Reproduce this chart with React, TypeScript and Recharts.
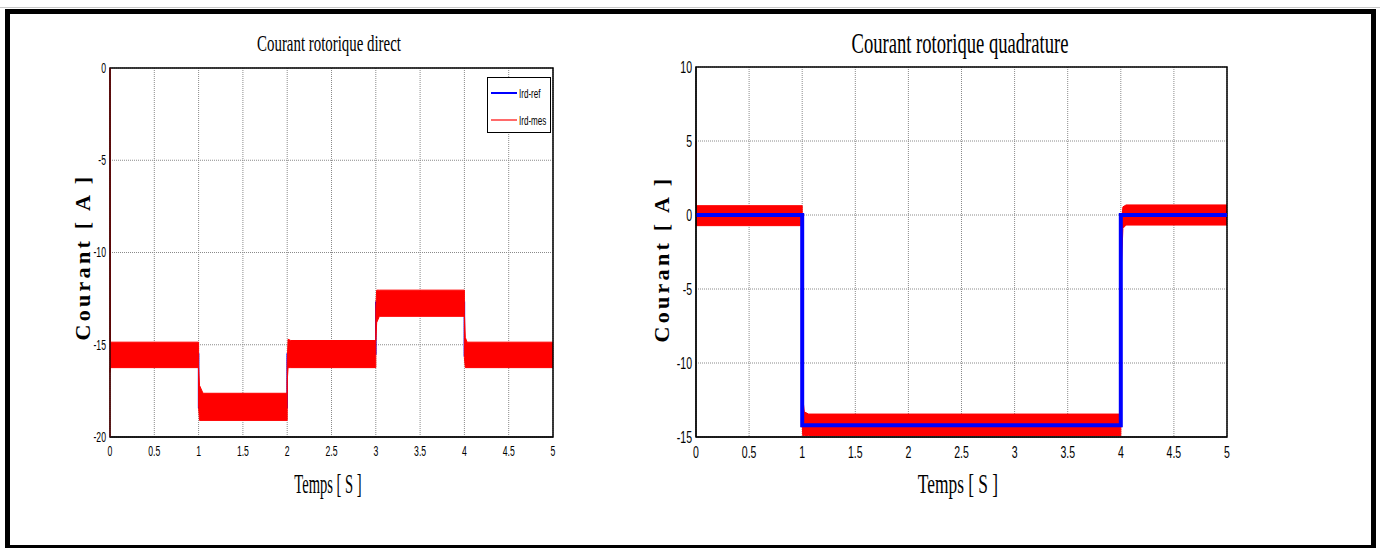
import { ComposedChart, Line, Area, XAxis, YAxis, CartesianGrid, ReferenceArea } from "recharts";

// time axis ticks shared by both plots
const timeTicks = [0, 0.5, 1, 1.5, 2, 2.5, 3, 3.5, 4, 4.5, 5];
const directTicks = [-20, -15, -10, -5, 0];
const quadTicks = [-15, -10, -5, 0, 5, 10];

// Ird : reference (blue) and measured band (red, min / max of the ripple)
const irdRefT = [0, 1, 1, 2, 2, 3, 3, 4, 4, 5];
const irdRef = [-15.5, -15.5, -18.4, -18.4, -15.5, -15.5, -12.7, -12.7, -15.6, -15.6];
const irdMesT = [0, 0.003, 1, 1, 1.01, 1.05, 2, 2, 2.01, 2.04, 3, 3, 3.01, 3.04, 4, 4, 4.01, 4.03, 5];
const irdMesHi = [0, -14.86, -14.86, -16.3, -17.2, -17.63, -17.63, -16.0, -14.7, -14.77, -14.77, -13.0, -12.04, -12.04, -12.04, -13.3, -14.6, -14.86, -14.86];
const irdMesLo = [-16.5, -16.24, -16.24, -18.4, -19.1, -19.1, -19.1, -17.0, -16.24, -16.24, -16.24, -14.8, -13.8, -13.46, -13.46, -15.7, -16.24, -16.24, -16.24];

// Irq : reference (blue) and measured band (red)
const irqRefT = [0, 1, 1, 4, 4, 5];
const irqRef = [0, 0, -14.2, -14.2, 0, 0];
const irqMesT = [0, 0.003, 1, 1, 1.005, 1.02, 1.06, 4, 4, 4.005, 4.02, 4.05, 5];
const irqMesHi = [5, 0.63, 0.63, -10.4, -12.3, -13.3, -13.45, -13.45, -4.0, -0.5, 0.55, 0.68, 0.68];
const irqMesLo = [-0.7, -0.72, -0.72, -14.0, -14.9, -14.9, -14.9, -14.9, -14.9, -3.5, -0.9, -0.68, -0.68];

const toLine = (t: number[], v: number[]) => t.map((x, i) => ({ t: x, v: v[i] }));
const toBand = (t: number[], lo: number[], hi: number[]) => t.map((x, i) => ({ t: x, band: [lo[i], hi[i]] }));

const SQUEEZE = 0.62;

const makeXTick = (size: number) => ({ x, y, payload }: any) => (
  <g transform={`translate(${x},${y})`}>
    <text transform={`scale(${SQUEEZE},1)`} textAnchor="middle" dy="0.71em" fontSize={size} fontFamily="Liberation Sans, Arial" fill="#000">
      {payload.value}
    </text>
  </g>
);

const makeYTick = (size: number) => ({ x, y, payload }: any) => (
  <g transform={`translate(${x},${y})`}>
    <text transform={`scale(${SQUEEZE},1)`} textAnchor="end" dy="0.355em" fontSize={size} fontFamily="Liberation Sans, Arial" fill="#000">
      {payload.value}
    </text>
  </g>
);

const XTickL = makeXTick(14);
const YTickL = makeYTick(14);
const XTickR = makeXTick(17);
const YTickR = makeYTick(17);

const serif = "Liberation Serif, Times New Roman, serif";

const Squeezed = ({ cx, cy, size, text, sx = SQUEEZE }: { cx: number; cy: number; size: number; text: string; sx?: number }) => (
  <div
    style={{
      position: "absolute",
      left: cx,
      top: cy,
      transform: `translate(-50%, -50%) scale(${sx}, 1)`,
      fontFamily: serif,
      fontSize: size,
      whiteSpace: "nowrap",
      lineHeight: 1,
    }}
  >
    {text}
  </div>
);

const YLabel = ({ cx, cy }: { cx: number; cy: number }) => (
  <div
    style={{
      position: "absolute",
      left: cx,
      top: cy,
      transform: "translate(-50%, -50%) rotate(-90deg)",
      fontFamily: serif,
      fontWeight: "bold",
      fontSize: 22,
      letterSpacing: 3.3,
      whiteSpace: "nowrap",
      lineHeight: 1,
    }}
  >
    Courant [ A ]
  </div>
);

const gridProps = { stroke: "#8a8a8a", strokeDasharray: "1 1" };

export default function App() {
  return (
    <div style={{ position: "absolute", left: 0, top: 0, width: 1380, height: 548, overflow: "hidden", background: "#fff" }}>
      <div style={{ position: "absolute", left: 0, top: 7, width: 1380, height: 1, background: "#c8c8c8" }} />
      <div style={{ position: "absolute", left: 5, top: 9, width: 1371, height: 541, border: "5px solid #000", boxSizing: "border-box" }} />

      {/* left : direct current */}
      <div style={{ position: "absolute", left: 0, top: 0 }}>
        <ComposedChart width={690} height={548} margin={{ top: 68, right: 137, bottom: 81, left: 70 }}>
          <CartesianGrid {...gridProps} />
          <XAxis dataKey="t" type="number" domain={[0, 5]} ticks={timeTicks} allowDuplicatedCategory={false} tick={<XTickL />} tickLine={false} tickSize={6} tickMargin={3} height={30} stroke="#000" />
          <YAxis type="number" domain={[-20, 0]} ticks={directTicks} tick={<YTickL />} tickLine={false} tickSize={2} tickMargin={2} width={40} stroke="#7a0000" />
          <Area data={toLine(irdRefT, irdRef)} dataKey="v" type="linear" stroke="#0000ff" strokeWidth={1.5} fill="none" dot={false} isAnimationActive={false} name="Ird-ref" />
          <Area data={toBand(irdMesT, irdMesLo, irdMesHi)} dataKey="band" type="linear" stroke="#ff0000" strokeWidth={1} fill="#ff0000" fillOpacity={1} isAnimationActive={false} name="Ird-mes" />
          <ReferenceArea x1={0} x2={5} y1={-20} y2={0} fill="none" stroke="#000" strokeWidth={1.5} />
        </ComposedChart>
      </div>

      {/* right : quadrature current */}
      <div style={{ position: "absolute", left: 600, top: 0 }}>
        <ComposedChart width={700} height={548} margin={{ top: 67, right: 73, bottom: 81, left: 56 }}>
          <CartesianGrid {...gridProps} />
          <XAxis dataKey="t" type="number" domain={[0, 5]} ticks={timeTicks} allowDuplicatedCategory={false} tick={<XTickR />} tickLine={false} tickSize={6} tickMargin={3} height={30} stroke="#000" />
          <YAxis type="number" domain={[-15, 10]} ticks={quadTicks} tick={<YTickR />} tickLine={false} tickSize={2} tickMargin={2} width={40} stroke="#000" allowDataOverflow />
          <Area data={toBand(irqMesT, irqMesLo, irqMesHi)} dataKey="band" type="linear" stroke="#ff0000" strokeWidth={1} fill="#ff0000" fillOpacity={1} isAnimationActive={false} name="Irq-mes" />
          <Line data={toLine(irqRefT, irqRef)} dataKey="v" stroke="#0000ff" strokeWidth={4} dot={false} isAnimationActive={false} name="Irq-ref" />
          <ReferenceArea x1={0} x2={5} y1={-15} y2={10} fill="none" stroke="#000" strokeWidth={1.5} />
        </ComposedChart>
      </div>

      {/* legend of the left plot */}
      <div style={{ position: "absolute", left: 487, top: 77, width: 64, height: 56, border: "1.5px solid #000", boxSizing: "border-box", background: "#fff" }}>
        <div style={{ position: "absolute", left: 3, top: 14, width: 26, height: 1.5, background: "#0000ff" }} />
        <div style={{ position: "absolute", left: 3, top: 41, width: 26, height: 1.5, background: "#ff6a6a" }} />
        <div style={{ position: "absolute", left: 31, top: 8, fontFamily: "Liberation Sans, Arial", fontSize: 13, transform: `scale(${SQUEEZE},1)`, transformOrigin: "left top", whiteSpace: "nowrap" }}>Ird-ref</div>
        <div style={{ position: "absolute", left: 31, top: 35, fontFamily: "Liberation Sans, Arial", fontSize: 13, transform: `scale(${SQUEEZE},1)`, transformOrigin: "left top", whiteSpace: "nowrap" }}>Ird-mes</div>
      </div>

      <Squeezed cx={329} cy={43} size={24} text="Courant rotorique direct" />
      <Squeezed cx={960} cy={43} size={30} text="Courant rotorique quadrature" />
      <Squeezed cx={328} cy={484} size={28} sx={0.52} text="Temps [ S ]" />
      <Squeezed cx={958} cy={484} size={28} text="Temps [ S ]" />
      <YLabel cx={83} cy={257} />
      <YLabel cx={662} cy={259} />
    </div>
  );
}
